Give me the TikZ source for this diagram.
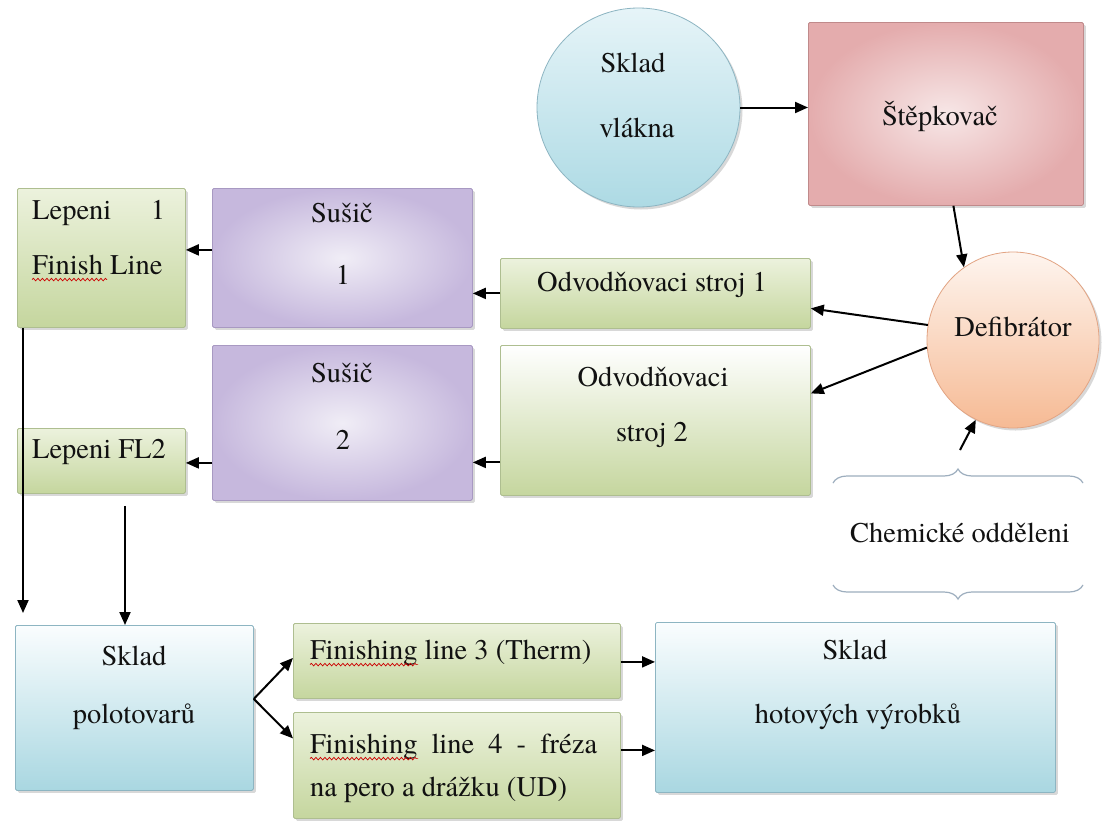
\documentclass[tikz,border=0pt]{standalone}
\usepackage{fontspec}
\setmainfont{texgyretermes}[Extension=.otf, UprightFont=*-regular, BoldFont=*-bold]
\usetikzlibrary{arrows.meta,shapes.geometric,shadows,decorations.pathreplacing,decorations.pathmorphing}
\definecolor{txtc}{HTML}{111111}
\definecolor{grnT}{HTML}{ECF2DD}
\definecolor{grnD}{HTML}{C5D69E}
\definecolor{grnB}{HTML}{AEBE90}
\definecolor{vioT}{HTML}{F0EDF6}
\definecolor{vioD}{HTML}{C6B8DD}
\definecolor{vioB}{HTML}{A899C2}
\definecolor{bluT}{HTML}{FAFDFE}
\definecolor{bluD}{HTML}{A9D7E1}
\definecolor{bluB}{HTML}{8DB5C2}
\definecolor{cirT}{HTML}{E6F4F8}
\definecolor{cirD}{HTML}{ADDAE4}
\definecolor{pnkT}{HTML}{F7E7E7}
\definecolor{pnkD}{HTML}{E4ACAD}
\definecolor{pnkB}{HTML}{C08A8B}
\definecolor{orgT}{HTML}{FEF5EF}
\definecolor{orgD}{HTML}{F6BA94}
\definecolor{orgB}{HTML}{E2A483}
\definecolor{brc}{HTML}{9DAEBE}
\begin{document}
\begin{tikzpicture}[x=1pt,y=-1pt,
  lbl/.style={inner sep=0pt, text=txtc, font=\fontsize{28.5}{34}\selectfont},
  arr/.style={draw=black, line width=2pt, -{Triangle[length=13pt,width=11pt]}},
  shd/.style={drop shadow={opacity=0.3, shadow xshift=2.5pt, shadow yshift=-2.5pt}},
  panel/.style={shd, rectangle, inner sep=0pt, anchor=north west, rounded corners=1.5pt, line width=0.8pt},
  greenbox/.style={panel, draw=grnB, top color=grnT, bottom color=grnD},
  violetbox/.style={panel, draw=vioB, inner color=vioT, outer color=vioD},
  bluebox/.style={panel, draw=bluB, top color=bluT, bottom color=bluD},
  pinkbox/.style={panel, draw=pnkB, inner color=pnkT, outer color=pnkD},
  oval/.style={shd, ellipse, inner sep=0pt, line width=0.8pt},
  bracestyle/.style={draw=brc, line width=1.2pt, decorate, decoration={brace, amplitude=14pt}},
  squig/.style={draw=red!80!black, line width=0.7pt, decorate, decoration={snake, amplitude=1.3pt, segment length=4.5pt}}
]
\path[use as bounding box, fill=white] (0,0) rectangle (1106,825);

% shapes
\node[oval, draw=bluB, top color=cirT, bottom color=cirD, minimum width=203pt, minimum height=199pt] (sv) at (638.5,107.5) {};
\node[pinkbox, minimum width=275pt, minimum height=183pt] (stepk) at (808,22) {};
\node[oval, draw=orgB, top color=orgT, bottom color=orgD, minimum width=172pt, minimum height=176pt] (def) at (1013,340) {};
\node[greenbox, minimum width=310pt, minimum height=70pt] (odv1) at (500,258) {};
\node[greenbox, top color=white, minimum width=310pt, minimum height=150pt] (odv2) at (500,345) {};
\node[violetbox, minimum width=260pt, minimum height=139pt] (sus1) at (212,188) {};
\node[violetbox, minimum width=260pt, minimum height=155pt] (sus2) at (212,345) {};
\node[greenbox, minimum width=168pt, minimum height=139pt] (lep1) at (17,188) {};
\node[greenbox, minimum width=168pt, minimum height=65pt] (lfl2) at (17,428) {};
\node[bluebox, minimum width=238pt, minimum height=165pt] (pol) at (15,625) {};
\node[greenbox, minimum width=327pt, minimum height=75pt] (fin3) at (293,623) {};
\node[greenbox, minimum width=327pt, minimum height=106pt] (fin4) at (293,712) {};
\node[bluebox, minimum width=400pt, minimum height=170pt] (hot) at (655,622) {};

% texts
\node[lbl] (sv1) at (633,63) {Sklad};
\node[lbl] (sv2) at (637,128) {vlákna};
\node[lbl] (stt) at (940,117) {Štěpkovač};
\node[lbl] (deft) at (1013,327) {Defibrátor};
\node[lbl] (o1t) at (652,285) {Odvodňovaci stroj 1};
\node[lbl] (o2a) at (653,377) {Odvodňovaci};
\node[lbl] (o2b) at (652,435) {stroj 2};
\node[lbl] (s1a) at (342,213) {Sušič};
\node[lbl] (s1b) at (343,275) {1};
\node[lbl] (s2a) at (342,373) {Sušič};
\node[lbl] (s2b) at (343,440) {2};
\node[lbl, anchor=west] (l1a) at (32,213) {\hbox to 133pt{Lepeni\hfill 1}};
\node[lbl, anchor=west] (l1b) at (32,265) {Finish Line};
\node[lbl] (l2t) at (99,452) {Lepeni FL2};
\node[lbl] (p1) at (134,656) {Sklad};
\node[lbl] (p2) at (134,717) {polotovarů};
\node[lbl, anchor=west] (f3t) at (310,653) {Finishing line 3 (Therm)};
\node[lbl, anchor=west] (f4a) at (310,747) {\hbox to 287pt{Finishing\hfill line\hfill 4\hfill -\hfill fréza}};
\node[lbl, anchor=west] (f4b) at (310,790) {na pero a drážku (UD)};
\node[lbl] (h1) at (855,650) {Sklad};
\node[lbl] (h2) at (858,717) {hotových výrobků};
\node[lbl] (chem) at (960,533) {Chemické odděleni};

% spell-check squiggles
\draw[squig] ([yshift=-5pt]l1b.base west) -- ++(75,0);
\draw[squig] ([yshift=-5pt]f3t.base west) -- ++(108,0);
\draw[squig] ([yshift=-5pt]f4a.base west) -- ++(108,0);

% braces
\coordinate (bA) at (833,483);
\coordinate (bB) at (1083,483);
\coordinate (bC) at (1083,585);
\coordinate (bD) at (833,585);
\draw[bracestyle] (bA) -- (bB);
\draw[bracestyle] (bC) -- (bD);
\coordinate (chemtop) at (960,450);

% connectors
\draw[arr] (sv.east) -- (sv.east -| stepk.west);
\draw[arr] ([xshift=7.5pt]stepk.south) -- (def.124);
\draw[arr] (def.170) -- ([yshift=-15pt]odv1.east);
\draw[arr] (def.185) -- ([yshift=27pt]odv2.east);
\draw[arr] (chemtop) -- (def.245);
\draw[arr] (odv1.west) -- (odv1.west -| sus1.east);
\draw[arr] ([yshift=-42pt]odv2.west) -- ([yshift=-42pt]odv2.west -| sus2.east);
\draw[arr] ([yshift=8pt]sus1.west) -- ([yshift=8pt]sus1.west -| lep1.east);
\draw[arr] ([yshift=-2pt]lfl2.east -| sus2.west) -- ([yshift=-2pt]lfl2.east);
\draw[arr, shorten >=12pt] ([xshift=6pt]lep1.south west) -- ([xshift=6pt]lep1.south west |- pol.north);
\draw[arr, shorten <=12pt] ([xshift=108pt]lfl2.south west) -- ([xshift=108pt]lfl2.south west |- pol.north);
\coordinate (br) at ([yshift=9pt]pol.east);
\draw[arr] (br) -- ([yshift=3pt]fin3.west);
\draw[arr] (br) -- ([yshift=27pt]fin4.west);
\draw[arr] ([yshift=-1pt]fin3.east) -- ([yshift=-1pt]fin3.east -| hot.west);
\draw[arr] ([yshift=15pt]fin4.east) -- ([yshift=15pt]fin4.east -| hot.west);
\end{tikzpicture}
\end{document}
